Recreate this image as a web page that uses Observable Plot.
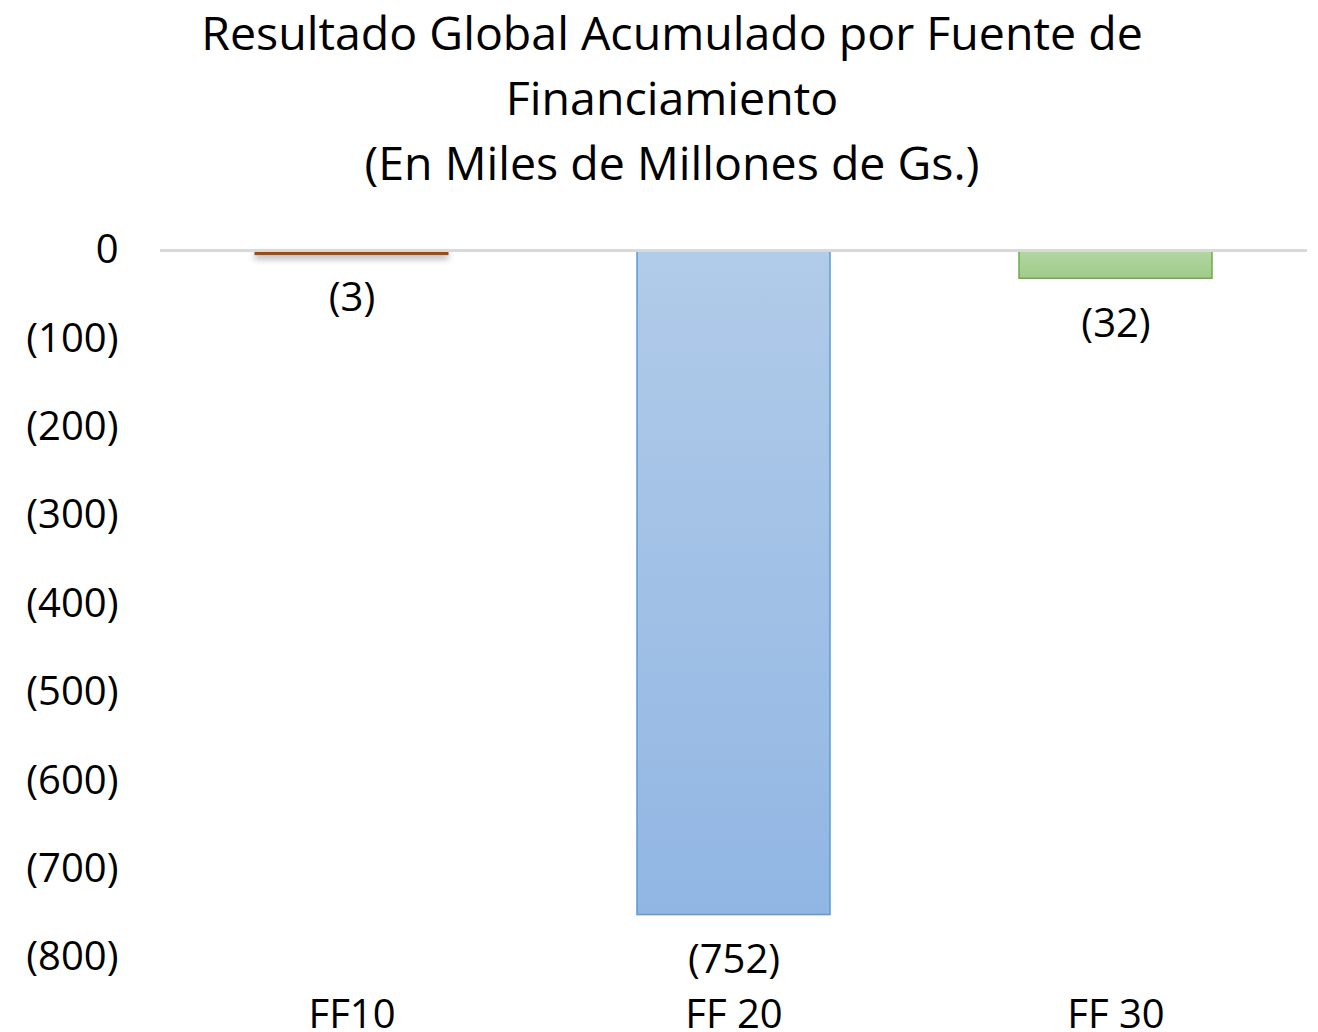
<!DOCTYPE html>
<html>
<head>
<meta charset="utf-8">
<script src="https://cdn.jsdelivr.net/npm/d3@7"></script>
<script src="https://cdn.jsdelivr.net/npm/@observablehq/plot@0.6"></script>
<style>
  html, body { margin: 0; padding: 0; background: #fff; }
  body { width: 1318px; height: 1032px; overflow: hidden; font-family: "Open Sans", sans-serif; }
  #title { width: 1318px; height: 200px; box-sizing: border-box; padding-top: 0px; padding-left: 26px; text-align: center; font-size: 46.5px; line-height: 65px; color: #000; }
</style>
</head>
<body>
<div id="title">Resultado Global Acumulado por Fuente de<br>Financiamiento<br>(En Miles de Millones de Gs.)</div>
<div id="chart"></div>
<script>
const categories = ["FF10", "FF 20", "FF 30"];
const values = [-3, -752, -32];
const fills = ["#9E480E", "url(#gradBlue)", "url(#gradGreen)"];
const strokes = ["#9E480E", "#5B9BD5", "#70AD47"];
const yTicks = [0, -100, -200, -300, -400, -500, -600, -700, -800];

const data = categories.map((c, i) => ({cat: c, value: values[i], fill: fills[i], stroke: strokes[i]}));
const fmt = v => v < 0 ? `(${Math.abs(v)})` : `${v}`;

const plot = Plot.plot({
  width: 1318,
  height: 832,
  marginTop: 50,
  marginBottom: 75,
  marginLeft: 160,
  marginRight: 11,
  style: {fontFamily: "Open Sans, sans-serif", fontSize: "40px", color: "#000", background: "#fff"},
  x: {domain: categories, paddingInner: 0.495, paddingOuter: 0.2475, label: null},
  y: {domain: [-800, 0], label: null},
  color: {type: "identity"},
  marks: [
    Plot.axisY({ticks: yTicks, tickFormat: fmt, tickSize: 0, tickPadding: 42, label: null, fontSize: 40}),
    Plot.axisX({tickSize: 0, tickPadding: 42, label: null, fontSize: 40}),
    Plot.barY(data, {x: "cat", y: "value", fill: "fill", stroke: "stroke", strokeWidth: 1.5,
      filter: d => d.cat !== "FF10"}),
    Plot.barY(data, {x: "cat", y: "value", fill: "fill", stroke: "stroke", strokeWidth: 1,
      insetBottom: -2, filter: d => d.cat === "FF10", className: "shadowbar"}),
    Plot.ruleY([0], {stroke: "#D9D9D9", strokeWidth: 3}),
    Plot.text(data, {x: "cat", y: "value", text: d => fmt(d.value), dy: 45, fontSize: 40, fill: "#000"})
  ]
});

const ns = "http://www.w3.org/2000/svg";
const defs = document.createElementNS(ns, "defs");
defs.innerHTML = `
  <linearGradient id="gradBlue" x1="0" y1="0" x2="0" y2="1">
    <stop offset="0" stop-color="#B1CBE9"/>
    <stop offset="1" stop-color="#91B6E3"/>
  </linearGradient>
  <linearGradient id="gradGreen" x1="0" y1="0" x2="0" y2="1">
    <stop offset="0" stop-color="#B4D6A3"/>
    <stop offset="1" stop-color="#9FCB8A"/>
  </linearGradient>
  <filter id="shadow" x="-10%" y="-300%" width="120%" height="900%">
    <feDropShadow dx="0" dy="4" stdDeviation="3" flood-color="#000" flood-opacity="0.3"/>
  </filter>`;
plot.insertBefore(defs, plot.firstChild);
const sb = plot.querySelector(".shadowbar");
if (sb) sb.setAttribute("filter", "url(#shadow)");
document.getElementById("chart").appendChild(plot);
</script>
</body>
</html>
